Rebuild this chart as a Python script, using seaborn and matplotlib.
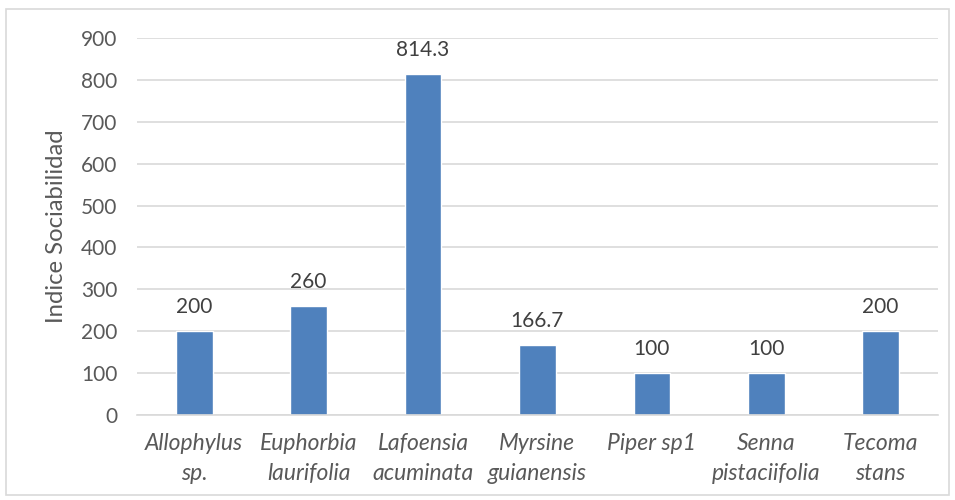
import matplotlib
matplotlib.use("Agg")
import matplotlib.pyplot as plt
import seaborn as sns
import pandas as pd
from matplotlib.patches import Rectangle

categories = ["Allophylus\nsp.", "Euphorbia\nlaurifolia", "Lafoensia\nacuminata",
              "Myrsine\nguianensis", "Piper sp1", "Senna\npistaciifolia", "Tecoma\nstans"]
values = [200, 260, 814.3, 166.7, 100, 100, 200]
labels = ["200", "260", "814.3", "166.7", "100", "100", "200"]
yticks = [0, 100, 200, 300, 400, 500, 600, 700, 800, 900]

sns.set_theme(style="white")
plt.rcParams['font.family'] = ['Lato', 'DejaVu Sans']

df = pd.DataFrame({"cat": categories, "val": values})
fig = plt.figure(figsize=(9.55, 5.0), dpi=100)
ax = fig.add_axes([0.1435, 0.17, 0.8385, 0.754])
sns.barplot(data=df, x="cat", y="val", color="#4f81bd", width=0.32, ax=ax, saturation=1)

ax.set_ylim(0, 900)
ax.set_yticks(yticks)
ax.set_yticklabels([str(t) for t in yticks], fontsize=15, color="#595959")
ax.set_xlim(-0.5, len(categories) - 0.5)
ax.yaxis.grid(True, color="#d9d9d9", linewidth=1.2)
ax.set_axisbelow(True)
for s in ["top", "right", "left"]:
    ax.spines[s].set_visible(False)
ax.spines["bottom"].set_color("#d9d9d9")
ax.spines["bottom"].set_linewidth(1.2)
ax.tick_params(axis="y", length=0, pad=14)
ax.tick_params(axis="x", length=0, pad=13)
ax.set_xticks(range(len(categories)))
ax.set_xticklabels(categories, fontsize=16.5, color="#595959", style="italic", linespacing=1.5)
ax.set_xlabel("")
ax.set_ylabel("Indice Sociabilidad", fontsize=17.2, color="#595959")
ax.yaxis.set_label_coords(-0.088, 0.5)

for i, (v, l) in enumerate(zip(values, labels)):
    ax.annotate(l, (i, v), xytext=(0, 10), textcoords="offset points",
                ha="center", va="bottom", fontsize=15, color="#404040")

fig.patches.append(Rectangle((0.006, 0.01), 0.988, 0.972, transform=fig.transFigure,
                             fill=False, edgecolor="#d9d9d9", linewidth=1.2))
fig.savefig("out.png", dpi=100)
